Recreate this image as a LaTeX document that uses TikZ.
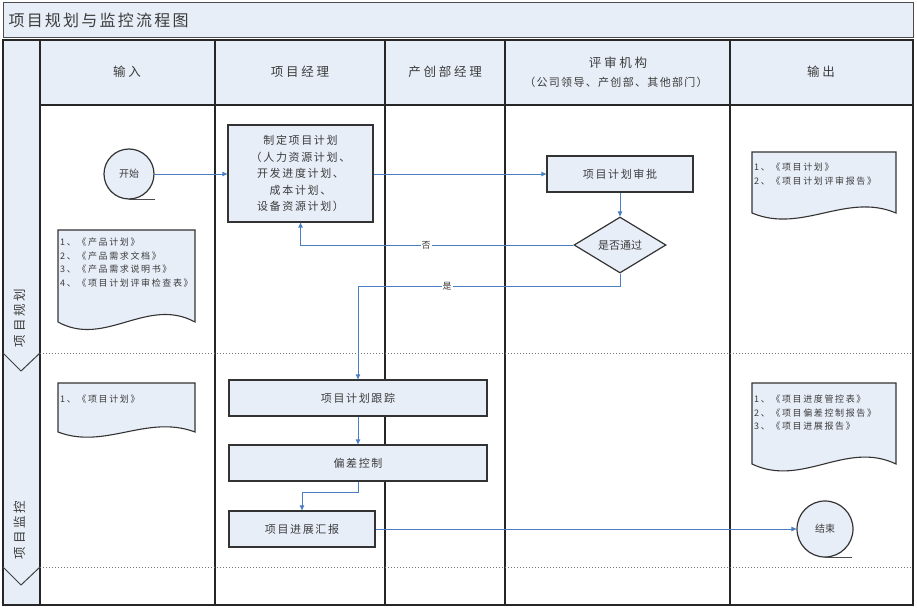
\documentclass[tikz,border=0pt]{standalone}
\usepackage{fontspec}
\setmainfont{Noto Sans CJK SC}
\usepackage{tikz}
\usetikzlibrary{shapes.geometric}
\usetikzlibrary{arrows.meta}
\usetikzlibrary{quotes}

\definecolor{paleblue}{HTML}{E8EEF8}
\definecolor{linkblue}{HTML}{4A7EC2}
\definecolor{inkgray}{HTML}{3C3C3C}

\begin{document}
\begin{tikzpicture}[x=1pt,y=-1pt,
    lane/.style={draw=black!85,line width=1.5pt},
    box/.style={rectangle,draw=black!80,line width=1.3pt,fill=paleblue,text=inkgray,
      font=\fontsize{11}{16.5}\selectfont\addfontfeature{LetterSpace=15},align=center,inner sep=0pt},
    doc/.style={draw=black!80,line width=1.1pt,fill=paleblue},
    doctext/.style={anchor=north west,align=left,text=inkgray,inner sep=0pt,
      font=\fontsize{9}{13.5}\selectfont\addfontfeature{LetterSpace=18}},
    headtext/.style={text=inkgray,font=\fontsize{12.5}{15}\selectfont\addfontfeature{LetterSpace=22}},
    link/.style={draw=linkblue,line width=0.9pt,-{Triangle[length=5pt,width=4.5pt]}},
    every edge quotes/.style={fill=white,text=inkgray,font=\fontsize{9}{10}\selectfont,inner sep=1pt}]

        \useasboundingbox (0,0) rectangle (917,609);

        % title band and lane headers
        \fill[paleblue] (3,3) rectangle (913,38);
        \draw[black!70,line width=1pt] (3,3) rectangle (913,38);
        \node[anchor=west,text=inkgray,font=\fontsize{16}{18}\selectfont\addfontfeature{LetterSpace=14}] (title) at (5,20) {项目规划与监控流程图};

        \fill[paleblue] (3,40) rectangle (913,105);
        \fill[paleblue] (3,105) rectangle (40,605);
        \draw[lane] (3,40) rectangle (913,605);
        \draw[lane] (40,105) -- (913,105);
        \foreach \lx in {40,215,385,505,730}
          \draw[lane] (\lx,40) -- (\lx,605);

        \node[headtext] (hin)  at (127,72)  {输入};
        \node[headtext] (hpm)  at (300,72)  {项目经理};
        \node[headtext] (hcd)  at (445,72)  {产创部经理};
        \node[headtext] (hrev) at (618,63)  {评审机构};
        \node[text=inkgray,font=\fontsize{11}{13}\selectfont\addfontfeature{LetterSpace=12}] (hsub) at (616,82) {（公司领导、产创部、其他部门）};
        \node[headtext] (hout) at (821,72)  {输出};

        % phase rows
        \draw[dotted,black!55,line width=1pt] (40,353) -- (913,353);
        \draw[dotted,black!55,line width=1pt] (40,567) -- (913,567);
        \draw[black!75,line width=1pt] (3,353) -- (21,371) -- (40,353);
        \draw[black!75,line width=1pt] (3,567) -- (21,585) -- (40,567);
        \node[headtext,rotate=90] (plan phase)  at (20,318) {项目规划};
        \node[headtext,rotate=90] (watch phase) at (20,530) {项目监控};

        % documents
        \draw[doc] (58,230) -- (195,230) -- (195,322)
          .. controls (147,296) and (105,348) .. (58,322) -- cycle;
        \node[doctext] (inplan) at (60,238)
          {1、《产品计划》\\2、《产品需求文档》\\3、《产品需求说明书》\\4、《项目计划评审检查表》};

        \draw[doc] (58,383) -- (195,383) -- (195,432)
          .. controls (147,414) and (105,450) .. (58,432) -- cycle;
        \node[doctext] (inwatch) at (60,395) {1、《项目计划》};

        \draw[doc] (752,152) -- (896,152) -- (896,213)
          .. controls (846,192) and (802,234) .. (752,213) -- cycle;
        \node[doctext] (outplan) at (754,163) {1、《项目计划》\\2、《项目计划评审报告》};

        \draw[doc] (752,383) -- (896,383) -- (896,464)
          .. controls (846,440) and (802,488) .. (752,464) -- cycle;
        \node[doctext] (outwatch) at (754,395)
          {1、《项目进度管控表》\\2、《项目偏差控制报告》\\3、《项目进展报告》};

        % flow nodes
        \node[circle,draw=black!80,line width=1.2pt,fill=paleblue,text=inkgray,minimum size=50pt,
          inner sep=0pt,font=\fontsize{10}{12}\selectfont] (start) at (129,174) {开始};
        \node[box,minimum width=145pt,minimum height=97pt] (plan) at (300.5,173.5)
          {制定项目计划\\（人力资源计划、\\开发进度计划、\\成本计划、\\设备资源计划）};
        \node[box,minimum width=146pt,minimum height=36pt] (review) at (620,174) {项目计划审批};
        \node[diamond,draw=black!80,line width=1.2pt,fill=paleblue,text=inkgray,inner sep=0pt,
          minimum width=92pt,minimum height=56pt,aspect=1.64,font=\fontsize{11}{13}\selectfont] (pass) at (620,245) {是否通过};
        \node[box,minimum width=258pt,minimum height=36pt] (track) at (358,398) {项目计划跟踪};
        \node[box,minimum width=258pt,minimum height=36pt] (dev) at (358,463) {偏差控制};
        \node[box,minimum width=146pt,minimum height=36pt] (report) at (302,529) {项目进展汇报};
        \node[circle,draw=black!80,line width=1.2pt,fill=paleblue,text=inkgray,minimum size=56pt,
          inner sep=0pt,font=\fontsize{10}{12}\selectfont] (end) at (825,529) {结束};
        \draw[black!70,line width=1.2pt] (start.south) -- ++(26,0);
        \draw[black!70,line width=1.2pt] (end.south) -- ++(27,0);

        % connectors
        \draw (start.east) edge[link] (start.east -| plan.west);
        \draw (plan.east |- review.west) edge[link] (review.west);
        \draw (review) edge[link] (pass);
        \draw[link] (pass.west) -| node[pos=0.27,fill=white,text=inkgray,font=\fontsize{9}{10}\selectfont,inner sep=1pt] {否} (plan.south);
        \draw[link] (pass.south) -- ++(0,13) -| node[pos=0.33,fill=white,text=inkgray,font=\fontsize{9}{10}\selectfont,inner sep=1pt] {是} (track.north);
        \draw (track) edge[link] (dev);
        \draw[link] (dev.south) -- ++(0,11) -| (report.north);
        \draw (report.east) edge[link] (end.west);
      \end{tikzpicture}
\end{document}
